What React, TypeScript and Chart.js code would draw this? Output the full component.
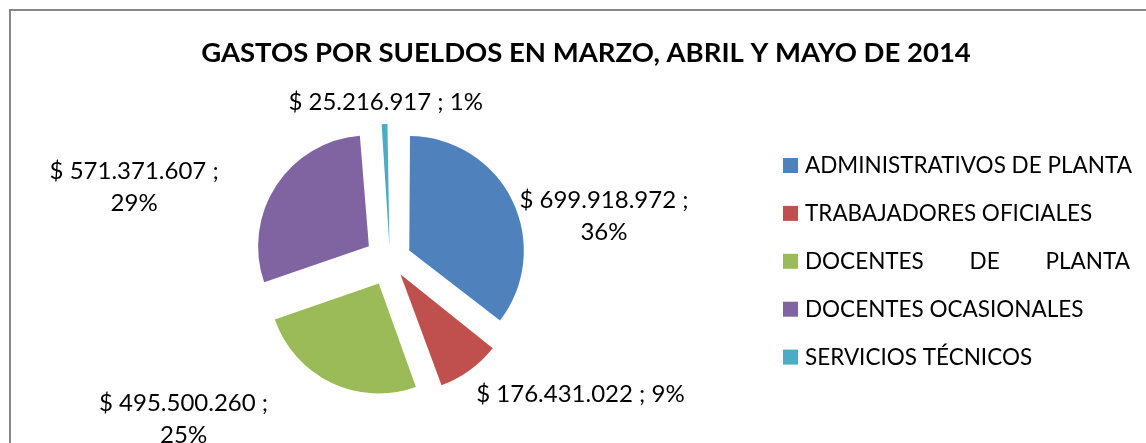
import React, { useEffect, useRef } from "react";
import { Chart, registerables } from "chart.js";

Chart.register(...registerables);

// ---- data ----
const categories = [
  "ADMINISTRATIVOS DE PLANTA",
  "TRABAJADORES OFICIALES",
  "DOCENTES DE PLANTA",
  "DOCENTES OCASIONALES",
  "SERVICIOS TÉCNICOS",
];
const values = [699918972, 176431022, 495500260, 571371607, 25216917];
const titleText = "GASTOS POR SUELDOS EN MARZO, ABRIL Y MAYO DE 2014";

// ---- styles / layout ----
const colors = ["#4F81BD", "#C0504D", "#9BBB59", "#8064A2", "#4BACC6"];
const labelWrap = [true, false, true, true, false];
const labelNudge = [
  [91.7, 15.4],
  [110.8, 23.1],
  [-147.7, 35.8],
  [-142, 0.7],
  [1.1, -23.1],
];
const legendJustify = [false, false, true, false, false];
const EXPLODE = 26; // px each slice is pulled out
const RADIUS = 110;
const W = 1146;
const H = 443;

const FONT = "Lato";
const CAP = 0.72;

function money(v: number): string {
  return "$ " + String(v).replace(/\B(?=(\d{3})+(?!\d))/g, ".");
}

const total = values.reduce((a, b) => a + b, 0);
// Chart.js translates an arc by offset/4 * (2 - sin(min(PI, circumference)));
// choose per-slice option so every slice is pulled out by EXPLODE px.
const offsets = values.map((v) => {
  const circ = (v / total) * Math.PI * 2;
  return (4 * EXPLODE) / (2 - Math.sin(Math.min(Math.PI, circ)));
});

const decorPlugin = {
  id: "decor",
  afterDraw(chart: any) {
    const ctx = chart.ctx as CanvasRenderingContext2D;
    ctx.save();
    // outer border
    ctx.strokeStyle = "#878787";
    ctx.lineWidth = 2;
    ctx.strokeRect(10, 10, 3000, 3000);

    // title
    const tSize = 27.5;
    ctx.fillStyle = "#000";
    ctx.font = `bold ${tSize}px ${FONT}`;
    ctx.textAlign = "center";
    ctx.textBaseline = "alphabetic";
    ctx.fillText(titleText, 586, 51.7 + (tSize * CAP) / 2);

    // data labels
    const meta = chart.getDatasetMeta(0);
    const lSize = 24;
    ctx.font = `${lSize}px ${FONT}`;
    meta.data.forEach((arc: any, i: number) => {
      const p = arc.getProps(["x", "y", "startAngle", "endAngle", "outerRadius"], true);
      const mid = (p.startAngle + p.endAngle) / 2;
      const px = p.x + Math.cos(mid) * (EXPLODE + p.outerRadius);
      const py = p.y + Math.sin(mid) * (EXPLODE + p.outerRadius);
      const cx = px + labelNudge[i][0];
      const cy = py + labelNudge[i][1];
      const pct = Math.round((values[i] / total) * 100) + "%";
      const lines = labelWrap[i]
        ? [money(values[i]) + " ;", pct]
        : [money(values[i]) + " ; " + pct];
      const lh = 32;
      lines.forEach((ln, k) => {
        const y = cy + (k - (lines.length - 1) / 2) * lh;
        ctx.fillText(ln, cx, y + (lSize * CAP) / 2);
      });
    });

    // legend
    const gSize = 22.5;
    ctx.font = `${gSize}px ${FONT}`;
    ctx.textAlign = "left";
    const maxW = Math.max(...categories.map((c) => ctx.measureText(c).width));
    const boxX = 783;
    const textX = 805;
    categories.forEach((c, i) => {
      const y = 165 + i * 47.9;
      ctx.fillStyle = colors[i];
      ctx.fillRect(boxX, y - 7, 15, 15);
      ctx.fillStyle = "#000";
      const by = y + (gSize * CAP) / 2;
      if (legendJustify[i]) {
        const words = c.split(" ");
        const ww = words.map((w) => ctx.measureText(w).width);
        const sum = ww.reduce((a, b) => a + b, 0);
        const gap = (maxW - 2 - sum) / (words.length - 1);
        let x = textX;
        words.forEach((w, k) => {
          ctx.fillText(w, x, by);
          x += ww[k] + gap;
        });
      } else {
        ctx.fillText(c, textX, by);
      }
    });
    ctx.restore();
  },
};

export default function App() {
  const ref = useRef<HTMLCanvasElement | null>(null);
  useEffect(() => {
    document.body.style.margin = "0";
    document.documentElement.style.overflow = "hidden";
    const chart = new Chart(ref.current as HTMLCanvasElement, {
      type: "pie",
      data: {
        labels: categories,
        datasets: [
          {
            data: values,
            backgroundColor: colors,
            borderWidth: 0,
            offset: offsets,
            radius: RADIUS,
          } as any,
        ],
      },
      options: {
        responsive: true,
        maintainAspectRatio: false,
        animation: false,
        layout: { padding: { left: 0, right: 366, top: 88, bottom: 11 } },
        plugins: {
          legend: { display: false },
          tooltip: { enabled: false },
          title: { display: false },
        },
      },
      plugins: [decorPlugin],
    });
    return () => chart.destroy();
  }, []);
  return (
    <div style={{ width: W, height: H, position: "relative" }}>
      <canvas ref={ref} />
    </div>
  );
}
